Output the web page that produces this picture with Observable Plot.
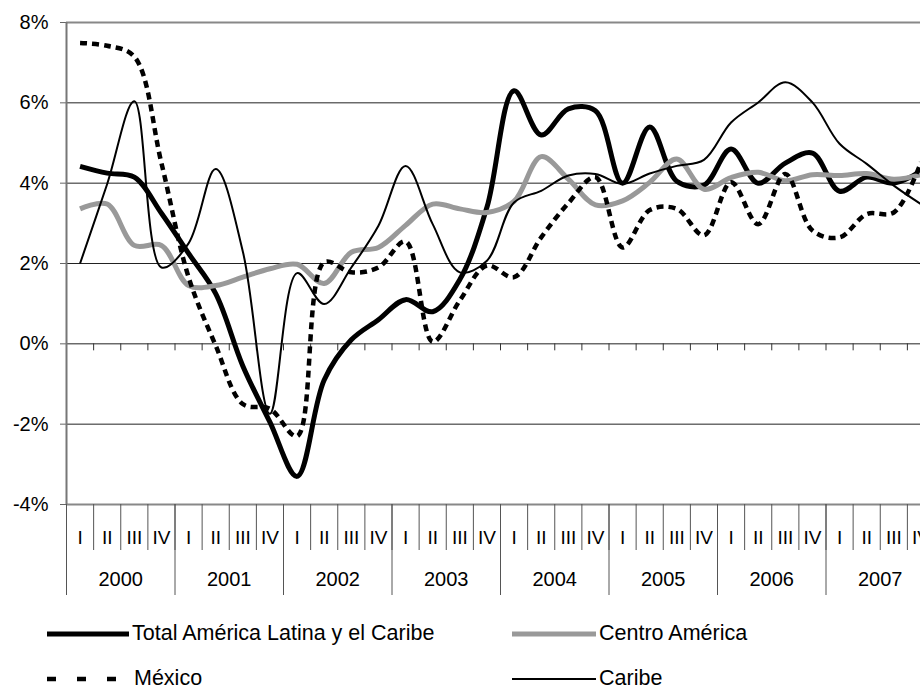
<!DOCTYPE html>
<html><head><meta charset="utf-8">
<script src="https://cdn.jsdelivr.net/npm/d3@7"></script>
<script src="https://cdn.jsdelivr.net/npm/@observablehq/plot@0.6"></script>
<style>
body{margin:0;background:#fff;font-family:"Liberation Sans",Arial,sans-serif;}
#wrap{position:relative;width:920px;height:690px;overflow:hidden;background:#fff;}
.leg{position:absolute;height:26px;display:flex;align-items:center;font-size:21.5px;line-height:1;color:#000;white-space:nowrap;}
.leg svg{display:block;margin-right:3px;}
</style></head><body>
<div id="wrap"><div id="chart"></div><div id="legend"></div></div>
<script>
const years = [2000, 2001, 2002, 2003, 2004, 2005, 2006, 2007];
const quarterLabels = ["I", "II", "III", "IV"];
const yTicks = [-4, -2, 0, 2, 4, 6, 8];
const seriesNames = ["Total América Latina y el Caribe", "Centro América", "México", "Caribe"];

const total  = [4.42, 4.25, 4.15, 3.25, 2.25, 1.25, -0.55, -1.95, -3.3, -0.9, 0.1, 0.6, 1.1, 0.8, 1.6, 3.4,
                6.3, 5.2, 5.85, 5.8, 4.0, 5.4, 4.05, 3.95, 4.85, 4.0, 4.5, 4.75, 3.8, 4.15, 4.0, 4.3];
const centro = [3.36, 3.48, 2.45, 2.45, 1.45, 1.45, 1.66, 1.87, 1.98, 1.5, 2.28, 2.4, 2.95, 3.48, 3.36, 3.27,
                3.55, 4.66, 4.1, 3.46, 3.56, 4.02, 4.6, 3.85, 4.14, 4.27, 4.06, 4.21, 4.19, 4.24, 4.1, 4.21];
const mexico = [7.49, 7.42, 7.15, 4.5, 1.66, -0.04, -1.5, -1.62, -2.3, 2.03, 1.78, 1.9, 2.55, 0.05, 1.08, 1.95,
                1.66, 2.65, 3.5, 4.15, 2.4, 3.33, 3.36, 2.7, 4.02, 2.98, 4.23, 2.82, 2.65, 3.23, 3.27, 4.52];
const caribe = [2.0, 3.98, 6.04, 1.9, 2.5, 4.35, 2.3, -1.74, 1.76, 0.99, 1.9, 2.94, 4.43, 2.98, 1.78, 2.07,
                3.52, 3.81, 4.19, 4.23, 3.98, 4.24, 4.43, 4.58, 5.51, 6.01, 6.51, 6.01, 4.98, 4.48, 3.94, 3.48];

const seriesValues = [total, centro, mexico, caribe];
const styles = [
  {stroke: "#000", strokeWidth: 5, dash: null},
  {stroke: "#999", strokeWidth: 5, dash: null},
  {stroke: "#000", strokeWidth: 4.5, dash: "7,5"},
  {stroke: "#000", strokeWidth: 2, dash: null}
];

const nQ = years.length * 4;
const rows = [];
seriesNames.forEach((name, s) => seriesValues[s].forEach((v, i) => rows.push({series: name, q: i + 0.5, v})));
const qBounds = d3.range(0, nQ + 1);
const qCenters = d3.range(0, nQ).map(i => i + 0.5);
const yearBounds = d3.range(0, years.length + 1).map(i => i * 4);
const yearCenters = years.map((y, i) => i * 4 + 2);

const drawOrder = [0, 1, 2, 3];
const lineMarks = drawOrder.map(s => Plot.line(rows.filter(r => r.series === seriesNames[s]), {
  x: "q", y: "v", curve: "catmull-rom",
  stroke: styles[s].stroke, strokeWidth: styles[s].strokeWidth,
  strokeDasharray: styles[s].dash, strokeLinejoin: "round", strokeLinecap: "butt"
}));

const chart = Plot.plot({
  width: 920, height: 600,
  marginTop: 22, marginBottom: 96, marginLeft: 66, marginRight: 0,
  style: {fontFamily: '"Liberation Sans", Arial, sans-serif', fontSize: "18px", background: "#fff", color: "#000", overflow: "hidden"},
  x: {type: "linear", domain: [0, nQ], range: [66, 934]},
  y: {domain: [-4, 8]},
  marks: [
    Plot.ruleY(yTicks.filter(d => d > -4 && d < 8), {stroke: "#222", strokeWidth: 1}),
    Plot.ruleY([8, -4], {stroke: "#888", strokeWidth: 2}),
    Plot.ruleX(qBounds.slice(1), {x: d => d, y1: 0, y2: 0, insetBottom: -7, stroke: "#333", strokeWidth: 1}),
    Plot.axisY({ticks: yTicks, tickFormat: d => d + "%", tickSize: 6, tickPadding: 12, fontSize: 20, stroke: "#666", fill: "#000", label: null}),
    Plot.axisX({ticks: qBounds, tickSize: 46, tickFormat: () => "", stroke: "#555", label: null}),
    Plot.axisX({ticks: yearBounds, tickSize: 91, tickFormat: () => "", stroke: "#555", label: null}),
    Plot.axisX({ticks: qCenters, tickSize: 0, tickPadding: 26, tickFormat: d => quarterLabels[Math.floor(d) % 4], fontSize: 19, fill: "#000", label: null}),
    Plot.axisX({ticks: yearCenters, tickSize: 0, tickPadding: 67, tickFormat: d => String(years[(d - 2) / 4]), fontSize: 20, fill: "#000", label: null}),
    Plot.ruleX([0], {stroke: "#777", strokeWidth: 2}),
    ...lineMarks
  ]
});
document.getElementById("chart").appendChild(chart);

// legend
const legendPos = [
  {left: 47, top: 621, sw: 82},
  {left: 512, top: 621, sw: 84},
  {left: 47, top: 666, sw: 84},
  {left: 512, top: 666, sw: 84}
];
const legend = document.getElementById("legend");
seriesNames.forEach((name, s) => {
  const p = legendPos[s];
  const st = styles[s];
  const div = document.createElement("div");
  div.className = "leg";
  div.style.left = p.left + "px";
  div.style.top = p.top + "px";
  const dash = st.dash ? 'stroke-dasharray="9,21"' : "";
  div.innerHTML = `<svg width="${p.sw}" height="26"><line x1="0" x2="${p.sw - (st.dash ? 12 : 0)}" y1="13" y2="13" stroke="${st.stroke}" stroke-width="${st.strokeWidth}" ${dash}/></svg><span>${name}</span>`;
  legend.appendChild(div);
});
</script>
</body></html>
